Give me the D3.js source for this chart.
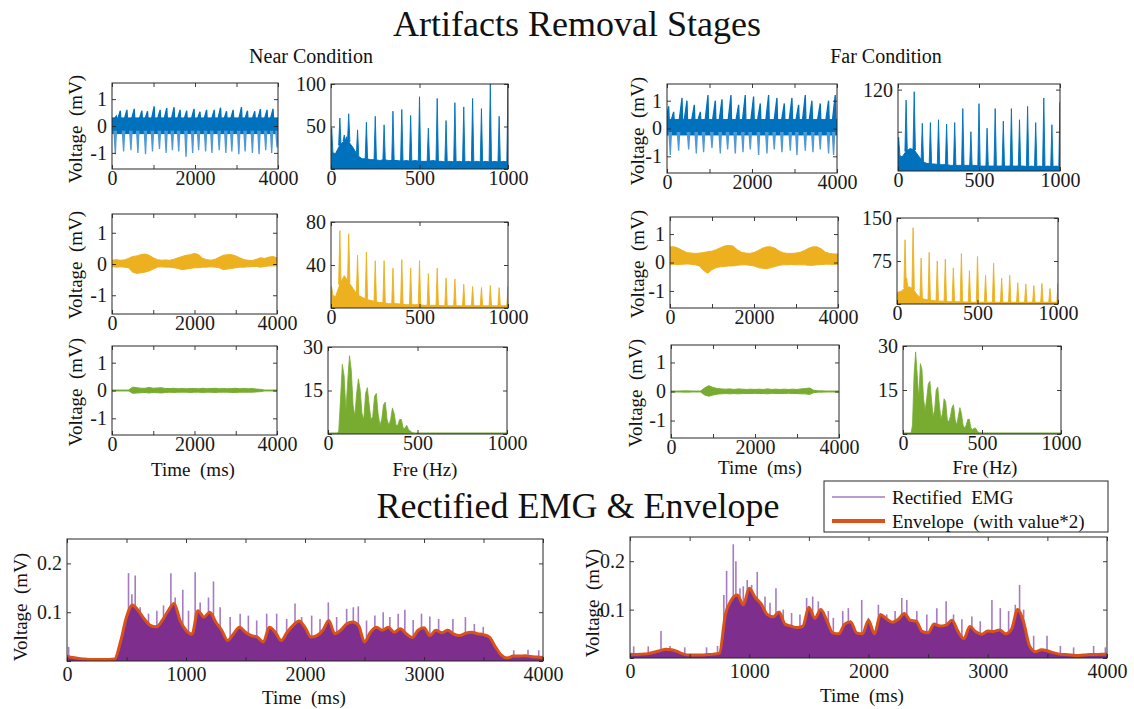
<!DOCTYPE html>
<html>
<head>
<meta charset="utf-8">
<script src="https://cdn.jsdelivr.net/npm/d3@7"></script>
<style>
  body { margin: 0; background: #fff; }
  text { font-family: "Liberation Serif", "Times New Roman", serif; white-space: pre; }
</style>
</head>
<body>
<script>
// ---------- data ----------
// raw EMG (blue): up / down spike times (ms) and voltages (mV), plus dense band
var nearRawUpT = [104,200,360,536,720,856,1016,1160,1320,1496,1640,1800,1976,2120,2280,2464,2616,2760,2920,3120,3264,3440,3576,3736,3880];
var nearRawUpV = [0.37,0.57,0.6,0.64,0.57,0.55,0.73,0.6,0.67,0.7,0.6,0.57,0.64,0.53,0.6,0.6,0.68,0.55,0.6,0.7,0.57,0.55,0.63,0.6,0.64];
var nearRawDnT = [80,280,456,624,808,976,1144,1304,1456,1608,1784,1944,2088,2256,2408,2584,2744,2888,3056,3208,3384,3544,3704,3848,3976];
var nearRawDnV = [-1.05,-0.95,-0.9,-1.0,-1.05,-0.95,-0.85,-1.0,-0.9,-0.95,-1.15,-1.0,-0.9,-0.95,-1.0,-0.9,-1.0,-0.95,-1.05,-0.95,-1.0,-1.05,-0.9,-1.0,-0.8];
var nearRawBand = [-0.3, 0.32];
var farRawUpT = [39,157,353,470,643,784,964,1137,1294,1505,1686,1842,2038,2195,2391,2587,2760,2940,3097,3254,3410,3606,3802,3959];
var farRawUpV = [0.8,0.6,1.1,1.0,0.85,0.6,1.2,1.0,1.05,1.2,0.85,1.2,1.15,0.9,1.2,1.1,0.9,1.1,0.85,1.2,1.0,0.9,1.0,1.2];
var farRawDnT = [78,274,510,690,862,1058,1254,1427,1607,1788,1960,2156,2352,2524,2705,2901,3058,3254,3434,3606,3802,3920];
var farRawDnV = [-0.95,-0.8,-0.75,-0.9,-0.85,-0.7,-0.9,-0.75,-0.9,-0.85,-0.75,-0.95,-0.9,-0.75,-0.85,-0.8,-0.95,-0.8,-0.85,-0.75,-0.9,-0.95];
var farRawBand = [-0.25, 0.34];

// filtered signals: upper / lower envelope every 100 ms (0..4000)
var nearFiltHi = [0.12,0.14,0.12,0.13,0.18,0.24,0.26,0.3,0.32,0.28,0.2,0.14,0.12,0.13,0.12,0.15,0.2,0.24,0.28,0.3,0.34,0.3,0.18,0.14,0.12,0.15,0.22,0.28,0.3,0.3,0.26,0.2,0.14,0.12,0.11,0.15,0.2,0.18,0.22,0.24,0.2];
var nearFiltLo = [-0.08,-0.1,-0.09,-0.1,-0.12,-0.26,-0.3,-0.28,-0.26,-0.22,-0.16,-0.1,-0.09,-0.1,-0.1,-0.12,-0.14,-0.18,-0.16,-0.14,-0.12,-0.12,-0.1,-0.1,-0.09,-0.1,-0.12,-0.18,-0.16,-0.14,-0.12,-0.1,-0.1,-0.09,-0.08,-0.08,-0.1,-0.08,-0.06,-0.06,-0.06];
var farFiltHi = [0.55,0.55,0.5,0.42,0.35,0.33,0.32,0.33,0.35,0.38,0.4,0.45,0.52,0.58,0.6,0.58,0.45,0.36,0.33,0.32,0.35,0.42,0.5,0.55,0.55,0.5,0.4,0.34,0.32,0.32,0.33,0.36,0.42,0.5,0.55,0.55,0.48,0.36,0.32,0.3,0.3];
var farFiltLo = [-0.08,-0.06,-0.07,-0.06,-0.05,-0.06,-0.08,-0.12,-0.28,-0.38,-0.25,-0.18,-0.15,-0.14,-0.12,-0.12,-0.1,-0.08,-0.08,-0.1,-0.12,-0.18,-0.2,-0.22,-0.18,-0.14,-0.1,-0.08,-0.08,-0.07,-0.08,-0.08,-0.08,-0.1,-0.1,-0.08,-0.07,-0.06,-0.06,-0.07,-0.06];

// clean signals (green): upper / lower envelope every 100 ms
var nearCleanHi = [0.01,0.01,0.01,0.01,0.01,0.12,0.1,0.08,0.08,0.11,0.08,0.09,0.1,0.07,0.07,0.08,0.06,0.07,0.06,0.07,0.07,0.06,0.08,0.06,0.07,0.08,0.06,0.07,0.06,0.07,0.08,0.06,0.07,0.06,0.07,0.05,0.04,0.01,0.01,0.01,0.01];
var nearCleanLo = [-0.01,-0.01,-0.01,-0.01,-0.01,-0.1,-0.09,-0.08,-0.07,-0.09,-0.07,-0.08,-0.09,-0.07,-0.06,-0.07,-0.06,-0.06,-0.06,-0.07,-0.06,-0.06,-0.07,-0.06,-0.06,-0.07,-0.06,-0.06,-0.06,-0.07,-0.07,-0.06,-0.06,-0.06,-0.06,-0.05,-0.04,-0.01,-0.01,-0.01,-0.01];
var farCleanHi = [0.01,0.01,0.01,0.02,0.02,0.01,0.01,0.01,0.12,0.2,0.14,0.1,0.09,0.08,0.09,0.07,0.09,0.08,0.07,0.08,0.07,0.08,0.07,0.09,0.07,0.08,0.07,0.08,0.07,0.08,0.07,0.09,0.1,0.12,0.04,0.02,0.02,0.01,0.01,0.01,0.01];
var farCleanLo = [-0.01,-0.01,-0.01,-0.02,-0.02,-0.01,-0.01,-0.01,-0.12,-0.16,-0.12,-0.09,-0.08,-0.07,-0.08,-0.07,-0.08,-0.07,-0.07,-0.07,-0.06,-0.07,-0.07,-0.08,-0.06,-0.07,-0.07,-0.07,-0.06,-0.07,-0.07,-0.08,-0.08,-0.1,-0.04,-0.02,-0.02,-0.01,-0.01,-0.01,-0.01];

// spectra: 50 Hz harmonics and their magnitudes
var harmonicsHz = [50,100,150,200,250,300,350,400,450,500,550,600,650,700,750,800,850,900,950,1000];
var nearRawSpec = [60,65,46,55,62,52,68,70,63,85,48,83,57,78,73,83,71,100,62,100];
var farRawSpec = [105,117,72,73,77,71,73,93,60,100,65,93,75,93,77,96,73,108,70,102];
var nearFiltSpec = [72,69,49,52,44,44,37,45,37,44,32,37,28,27,22,20,19,21,19,20];
var farFiltSpec = [112,133,80,90,75,78,63,88,58,83,50,71,45,50,37,35,32,36,27,36];
// other isolated peaks [Hz, magnitude]
var nearRawExtra = [[4,48],[75,40],[88,38]];
var farRawExtra = [[4,52]];
var nearFiltExtra = [[3,20]];
var farFiltExtra = [[60,45]];
// broadband floor every 25 Hz (0..1000)
var nearRawFloor = [20,18,28,33,32,25,16,12,12,11,11,10,11,10,10,10,9,10,9,10,9,9,9,10,9,9,8,9,8,9,8,9,8,9,8,9,8,9,8,9,8];
var farRawFloor = [28,24,32,36,34,26,18,15,14,14,13,13,13,12,12,12,12,12,12,12,11,11,11,11,11,11,11,11,11,11,11,11,10,11,10,11,10,11,10,11,10];
var nearFiltFloor = [14,10,22,30,24,18,12,10,8,7,6,5,5,4,4,4,3.5,3,3,3,3,2.5,2.5,2.5,2.5,2.2,2.2,2,2,2,2,2,2,2,2,2,2,2,2,2,2];
var farFiltFloor = [20,22,28,30,26,16,10,8,7,6,5,5,5,4,4,4,4,3.5,3.5,3,3,3,3,3,3,3,3,3,3,3,3,3,3,3,3,3,3,3,3,3,3];
// clean spectrum envelope every 10 Hz (0..500)
var nearCleanSpec = [0,0,0,0,0,0,1,12,24,20,8,18,27,22,10,6,14,19,15,7,5,14,16,10,5,6,13,14,7,3,5,10,11,5,3,5,9,7,3,3,5,5,2,2,3,1.5,1,0.5,0.3,0,0];
var farCleanSpec = [0,0,0,0,0,0,3,20,28,20,12,24,22,12,8,12,17,18,12,6,8,15,16,10,5,7,12,11,5,4,6,9,10,5,3,6,9,7,3,2,3,5,5,2,1.5,2,2,1,0.5,0.3,0.2];

// rectified EMG: envelope every 50 ms (0..4000) and tall spikes
var nearEnv = [0.010,0.007,0.005,0.004,0.003,0.003,0.003,0.003,0.004,0.040,
  0.090,0.115,0.103,0.086,0.073,0.070,0.083,0.103,0.118,0.083,
  0.063,0.055,0.103,0.090,0.100,0.080,0.063,0.042,0.056,0.069,
  0.059,0.052,0.049,0.039,0.069,0.059,0.042,0.059,0.073,0.082,
  0.069,0.049,0.052,0.063,0.083,0.056,0.063,0.076,0.080,0.073,
  0.039,0.059,0.069,0.063,0.069,0.059,0.066,0.056,0.048,0.063,
  0.068,0.052,0.063,0.058,0.063,0.055,0.052,0.057,0.059,0.056,
  0.054,0.049,0.029,0.012,0.006,0.010,0.010,0.011,0.009,0.008,0.007];
var farEnv = [0.008,0.007,0.008,0.009,0.012,0.015,0.018,0.017,0.013,0.008,
  0.006,0.006,0.006,0.007,0.008,0.010,0.090,0.120,0.130,0.110,
  0.144,0.125,0.112,0.090,0.085,0.095,0.070,0.066,0.063,0.066,
  0.105,0.082,0.100,0.078,0.052,0.050,0.070,0.075,0.052,0.050,
  0.078,0.050,0.090,0.081,0.074,0.080,0.092,0.078,0.076,0.055,
  0.052,0.070,0.066,0.068,0.078,0.055,0.040,0.065,0.054,0.049,
  0.056,0.055,0.058,0.050,0.060,0.100,0.075,0.025,0.013,0.017,
  0.015,0.011,0.008,0.007,0.006,0.005,0.006,0.007,0.007,0.008,0.008];
var nearSpikeT = [14,517,545,573,615,685,755,811,873,909,973,1021,1077,1119,1189,1231,1287,1371,1455,1524,1594,1678,1762,1846,1916,1972,2056,2126,2196,2266,2350,2406,2448,2517,2587,2657,2713,2783,2839,2909,2979,3049,3123,3243,3348,3423,3498,3574,3754,3874,3964];
var nearSpikeV = [0.029,0.18,0.137,0.175,0.11,0.097,0.103,0.114,0.18,0.13,0.146,0.103,0.182,0.12,0.13,0.163,0.11,0.09,0.097,0.093,0.083,0.097,0.097,0.086,0.118,0.09,0.093,0.086,0.12,0.09,0.107,0.11,0.112,0.083,0.093,0.1,0.09,0.097,0.105,0.084,0.097,0.091,0.086,0.086,0.09,0.076,0.07,0.042,0.022,0.023,0.022];
var farSpikeT = [31,153,260,336,459,642,734,787,810,866,888,922,950,983,1020,1067,1132,1174,1224,1285,1355,1425,1481,1532,1579,1663,1705,1784,1831,1943,1999,2083,2153,2223,2279,2321,2405,2489,2573,2651,2713,2783,2867,2937,3035,3105,3175,3231,3267,3301,3385,3497,3609,3720,3888,3986];
var farSpikeV = [0.024,0.024,0.056,0.025,0.022,0.022,0.025,0.13,0.18,0.235,0.2,0.144,0.148,0.161,0.151,0.178,0.127,0.114,0.144,0.1,0.093,0.09,0.124,0.127,0.117,0.097,0.083,0.097,0.103,0.12,0.083,0.11,0.09,0.097,0.124,0.12,0.097,0.09,0.103,0.117,0.09,0.08,0.086,0.076,0.12,0.103,0.097,0.11,0.151,0.1,0.046,0.046,0.025,0.022,0.025,0.022];

var legendLabels = ["Rectified  EMG", "Envelope  (with value*2)"];

// ---------- drawing ----------
var C = { blue: "#0072bd", blueLt: "#4f9ad6", orange: "#edb120", green: "#77ac30",
          purple: "#7e2f8e", purpleLt: "#a57bc2", env: "#d95319", ink: "#262626" };
var SERIF = '"Liberation Serif", "Times New Roman", serif';

var svg = d3.select("body").append("svg").attr("width", 1134).attr("height", 709);
svg.append("rect").attr("width", 1134).attr("height", 709).attr("fill", "#fff");
var clipN = 0;

function panel(b, xd, yd) {
  var x = d3.scaleLinear().domain(xd).range([b[0], b[1]]);
  var y = d3.scaleLinear().domain(yd).range([b[3], b[2]]);
  var id = "clip" + (clipN++);
  svg.append("clipPath").attr("id", id).append("rect")
    .attr("x", b[0]).attr("y", b[2]).attr("width", b[1] - b[0]).attr("height", b[3] - b[2]);
  var g = svg.append("g").attr("clip-path", "url(#" + id + ")");
  return { x: x, y: y, g: g, b: b };
}

function frame(p, xt, xl, yt, yl, xpad) {
  var b = p.b, ax = svg.append("g");
  var fx = function(d) { return xl.indexOf(d) >= 0 ? String(d) : ""; };
  var fy = function(d) { return yl.indexOf(d) >= 0 ? String(d) : ""; };
  ax.append("g").attr("transform", "translate(0," + b[3] + ")")
    .call(d3.axisBottom(p.x).tickValues(xt).tickSize(-4).tickPadding(xpad).tickFormat(fx));
  ax.append("g").attr("transform", "translate(0," + b[2] + ")")
    .call(d3.axisTop(p.x).tickValues(xt).tickSize(-4).tickFormat(""));
  ax.append("g").attr("transform", "translate(" + b[0] + ",0)")
    .call(d3.axisLeft(p.y).tickValues(yt).tickSize(-4).tickPadding(5).tickFormat(fy));
  ax.append("g").attr("transform", "translate(" + b[1] + ",0)")
    .call(d3.axisRight(p.y).tickValues(yt).tickSize(-4).tickFormat(""));
  ax.selectAll(".domain").remove();
  ax.selectAll("line").attr("stroke", C.ink).attr("stroke-width", 0.9);
  ax.selectAll("text").attr("font-family", SERIF).attr("font-size", 20).attr("fill", "#1a1a1a");
  ax.append("rect").attr("x", b[0]).attr("y", b[2]).attr("width", b[1] - b[0]).attr("height", b[3] - b[2])
    .attr("fill", "none").attr("stroke", C.ink).attr("stroke-width", 1);
}

function ylabel(x, y, txt) {
  svg.append("text").attr("transform", "translate(" + x + "," + y + ") rotate(-90)")
    .attr("text-anchor", "middle").attr("dominant-baseline", "central")
    .attr("font-size", 19).attr("fill", "#111").text(txt);
}
function label(x, y, txt, size) {
  svg.append("text").attr("x", x).attr("y", y).attr("text-anchor", "middle")
    .attr("font-size", size).attr("fill", "#111").text(txt);
}

var tGrid100 = d3.range(0, 4001, 100), tGrid50 = d3.range(0, 4001, 50);
var fGrid25 = d3.range(0, 1001, 25), fGrid10 = d3.range(0, 501, 10);
var timeTicks = [0, 1000, 2000, 3000, 4000], timeLabels = [0, 2000, 4000];
var freqTicks = [0, 500, 1000];

function rawPanel(b, upT, upV, dnT, dnV, band) {
  var p = panel(b, [0, 4000], [-1.6, 1.6]);
  p.g.append("rect").attr("x", b[0]).attr("width", b[1] - b[0])
    .attr("y", p.y(band[1])).attr("height", p.y(band[0]) - p.y(band[1])).attr("fill", C.blue);
  p.g.selectAll(".dn").data(d3.zip(dnT, dnV)).join("path")
    .attr("d", function(d) {
      return "M" + p.x(d[0] - 30) + "," + p.y(band[0] + 0.1) + "L" + p.x(d[0]) + "," + p.y(d[1]) +
             "L" + p.x(d[0] + 25) + "," + p.y(band[0] + 0.1) + "Z";
    })
    .attr("fill", C.blueLt).attr("stroke", C.blueLt).attr("stroke-width", 1.3);
  p.g.selectAll(".up").data(d3.zip(upT, upV)).join("path")
    .attr("d", function(d) {
      return "M" + p.x(d[0] - 70) + "," + p.y(band[1] - 0.1) + "L" + p.x(d[0]) + "," + p.y(d[1]) +
             "L" + p.x(d[0] + 15) + "," + p.y(band[1] - 0.1) + "Z";
    })
    .attr("fill", C.blue).attr("stroke", C.blue).attr("stroke-width", 1.3);
  frame(p, timeTicks, timeLabels, [-1, 0, 1], [-1, 0, 1], 2);
  return p;
}

function bandPanel(b, hi, lo, color) {
  var p = panel(b, [0, 4000], [-1.6, 1.6]);
  var rows = d3.zip(tGrid100, hi, lo);
  p.g.append("line").attr("x1", b[0]).attr("x2", b[1]).attr("y1", p.y(0)).attr("y2", p.y(0))
    .attr("stroke", color).attr("stroke-width", 1.5);
  p.g.append("path").datum(rows)
    .attr("d", d3.area().x(function(d) { return p.x(d[0]); })
      .y0(function(d) { return p.y(d[2]); }).y1(function(d) { return p.y(d[1]); }))
    .attr("fill", color).attr("stroke", color).attr("stroke-width", 1);
  frame(p, timeTicks, timeLabels, [-1, 0, 1], [-1, 0, 1], 2);
  return p;
}

function specPanel(b, ymax, ymin, yt, floor, peaks, extra, color) {
  var p = panel(b, [0, 1000], [ymin, ymax]);
  var floorAt = d3.scaleLinear().domain(fGrid25).range(floor);
  p.g.append("path").datum(d3.zip(fGrid25, floor))
    .attr("d", d3.area().x(function(d) { return p.x(d[0]); }).y0(b[3]).y1(function(d) { return p.y(d[1]); }))
    .attr("fill", color).attr("stroke", color).attr("stroke-width", 1);
  var pk = d3.zip(harmonicsHz, peaks).concat(extra);
  p.g.selectAll(".pk").data(pk).join("path")
    .attr("d", function(d) {
      var f0 = p.y(floorAt(d[0]));
      return "M" + (p.x(d[0]) - 1.2) + "," + f0 + "L" + p.x(d[0]) + "," + p.y(d[1]) +
             "L" + (p.x(d[0]) + 1.2) + "," + f0 + "Z";
    })
    .attr("fill", color).attr("stroke", color).attr("stroke-width", 0.9).attr("stroke-linejoin", "round");
  frame(p, freqTicks, freqTicks, yt, yt.slice(1), 2);
  return p;
}

function cleanSpecPanel(b, env, color) {
  var p = panel(b, [0, 1000], [0, 30]);
  p.g.append("line").attr("x1", b[0]).attr("x2", b[1]).attr("y1", b[3] - 0.5).attr("y2", b[3] - 0.5)
    .attr("stroke", color).attr("stroke-width", 1.8);
  p.g.append("path").datum(d3.zip(fGrid10, env))
    .attr("d", d3.area().x(function(d) { return p.x(d[0]); }).y0(b[3]).y1(function(d) { return p.y(d[1]); }))
    .attr("fill", color).attr("stroke", color).attr("stroke-width", 0.8);
  frame(p, freqTicks, freqTicks, [0, 15, 30], [15, 30], 2);
  return p;
}

function rectPanel(b, env, spT, spV) {
  var p = panel(b, [0, 4000], [0, 0.25]);
  var rows = d3.zip(tGrid50, env);
  p.g.selectAll(".sp").data(d3.zip(spT, spV)).join("line")
    .attr("x1", function(d) { return p.x(d[0]); }).attr("x2", function(d) { return p.x(d[0]); })
    .attr("y1", b[3]).attr("y2", function(d) { return p.y(d[1]); })
    .attr("stroke", C.purpleLt).attr("stroke-width", 1.6);
  p.g.append("path").datum(rows)
    .attr("d", d3.area().x(function(d) { return p.x(d[0]); }).y0(b[3]).y1(function(d) { return p.y(d[1]); }))
    .attr("fill", C.purple);
  p.g.append("path").datum(rows)
    .attr("d", d3.line().x(function(d) { return p.x(d[0]); }).y(function(d) { return p.y(d[1]); }).curve(d3.curveMonotoneX))
    .attr("fill", "none").attr("stroke", C.env).attr("stroke-width", 3).attr("stroke-linejoin", "round");
  frame(p, d3.range(0, 4001, 500), [0, 1000, 2000, 3000, 4000], [0, 0.1, 0.2], [0.1, 0.2], 6);
  return p;
}

// titles
label(577, 36, "Artifacts Removal Stages", 36);
label(311, 63, "Near Condition", 20);
label(886, 63, "Far Condition", 20);

// row 1: raw
rawPanel([112, 278, 83, 169], nearRawUpT, nearRawUpV, nearRawDnT, nearRawDnV, nearRawBand);
specPanel([331, 508, 84, 169], 100, 0, [0, 50, 100], nearRawFloor, nearRawSpec, nearRawExtra, C.blue);
rawPanel([667, 837, 84, 173], farRawUpT, farRawUpV, farRawDnT, farRawDnV, farRawBand);
specPanel([898, 1060, 84, 171], 128, 4, [60, 120], farRawFloor, farRawSpec, farRawExtra, C.blue);

// row 2: filtered
bandPanel([112, 277, 214, 314], nearFiltHi, nearFiltLo, C.orange);
specPanel([331, 508, 222, 308], 80, 0, [0, 40, 80], nearFiltFloor, nearFiltSpec, nearFiltExtra, C.orange);
bandPanel([670, 838, 217, 308], farFiltHi, farFiltLo, C.orange);
specPanel([897, 1058, 218, 304], 150, 0, [0, 75, 150], farFiltFloor, farFiltSpec, farFiltExtra, C.orange);

// row 3: clean
bandPanel([112, 277, 346, 435], nearCleanHi, nearCleanLo, C.green);
cleanSpecPanel([328, 507, 347, 434], nearCleanSpec, C.green);
bandPanel([671, 839, 345, 438], farCleanHi, farCleanLo, C.green);
cleanSpecPanel([903, 1061, 346, 434], farCleanSpec, C.green);

[[75, 129], [75, 265], [75, 392], [637, 131], [637, 264], [635, 393]].forEach(function(d) {
  ylabel(d[0], d[1], "Voltage  (mV)");
});
label(193, 476, "Time  (ms)", 19);
label(425, 476, "Fre (Hz)", 19);
label(760, 474, "Time  (ms)", 19);
label(985, 474, "Fre (Hz)", 19);

// bottom: rectified EMG
label(578, 518, "Rectified EMG & Envelope", 36);
rectPanel([67, 543, 539, 661], nearEnv, nearSpikeT, nearSpikeV);
rectPanel([630, 1107, 537, 658], farEnv, farSpikeT, farSpikeV);
ylabel(20, 607, "Voltage  (mV)");
ylabel(592, 603, "Voltage  (mV)");
label(304, 704, "Time  (ms)", 19);
label(862, 702, "Time  (ms)", 19);

// legend
var lg = svg.append("g");
lg.append("rect").attr("x", 824).attr("y", 481).attr("width", 284).attr("height", 51)
  .attr("fill", "#fff").attr("stroke", C.ink).attr("stroke-width", 1);
var lgStyle = [[C.purpleLt, 1.5], [C.env, 4]];
legendLabels.forEach(function(t, i) {
  var yy = 497 + i * 24;
  lg.append("line").attr("x1", 832).attr("x2", 885).attr("y1", yy).attr("y2", yy)
    .attr("stroke", lgStyle[i][0]).attr("stroke-width", lgStyle[i][1]);
  lg.append("text").attr("x", 892).attr("y", yy).attr("dominant-baseline", "central")
    .attr("font-size", 19).attr("fill", "#111").text(t);
});
</script>
</body>
</html>
